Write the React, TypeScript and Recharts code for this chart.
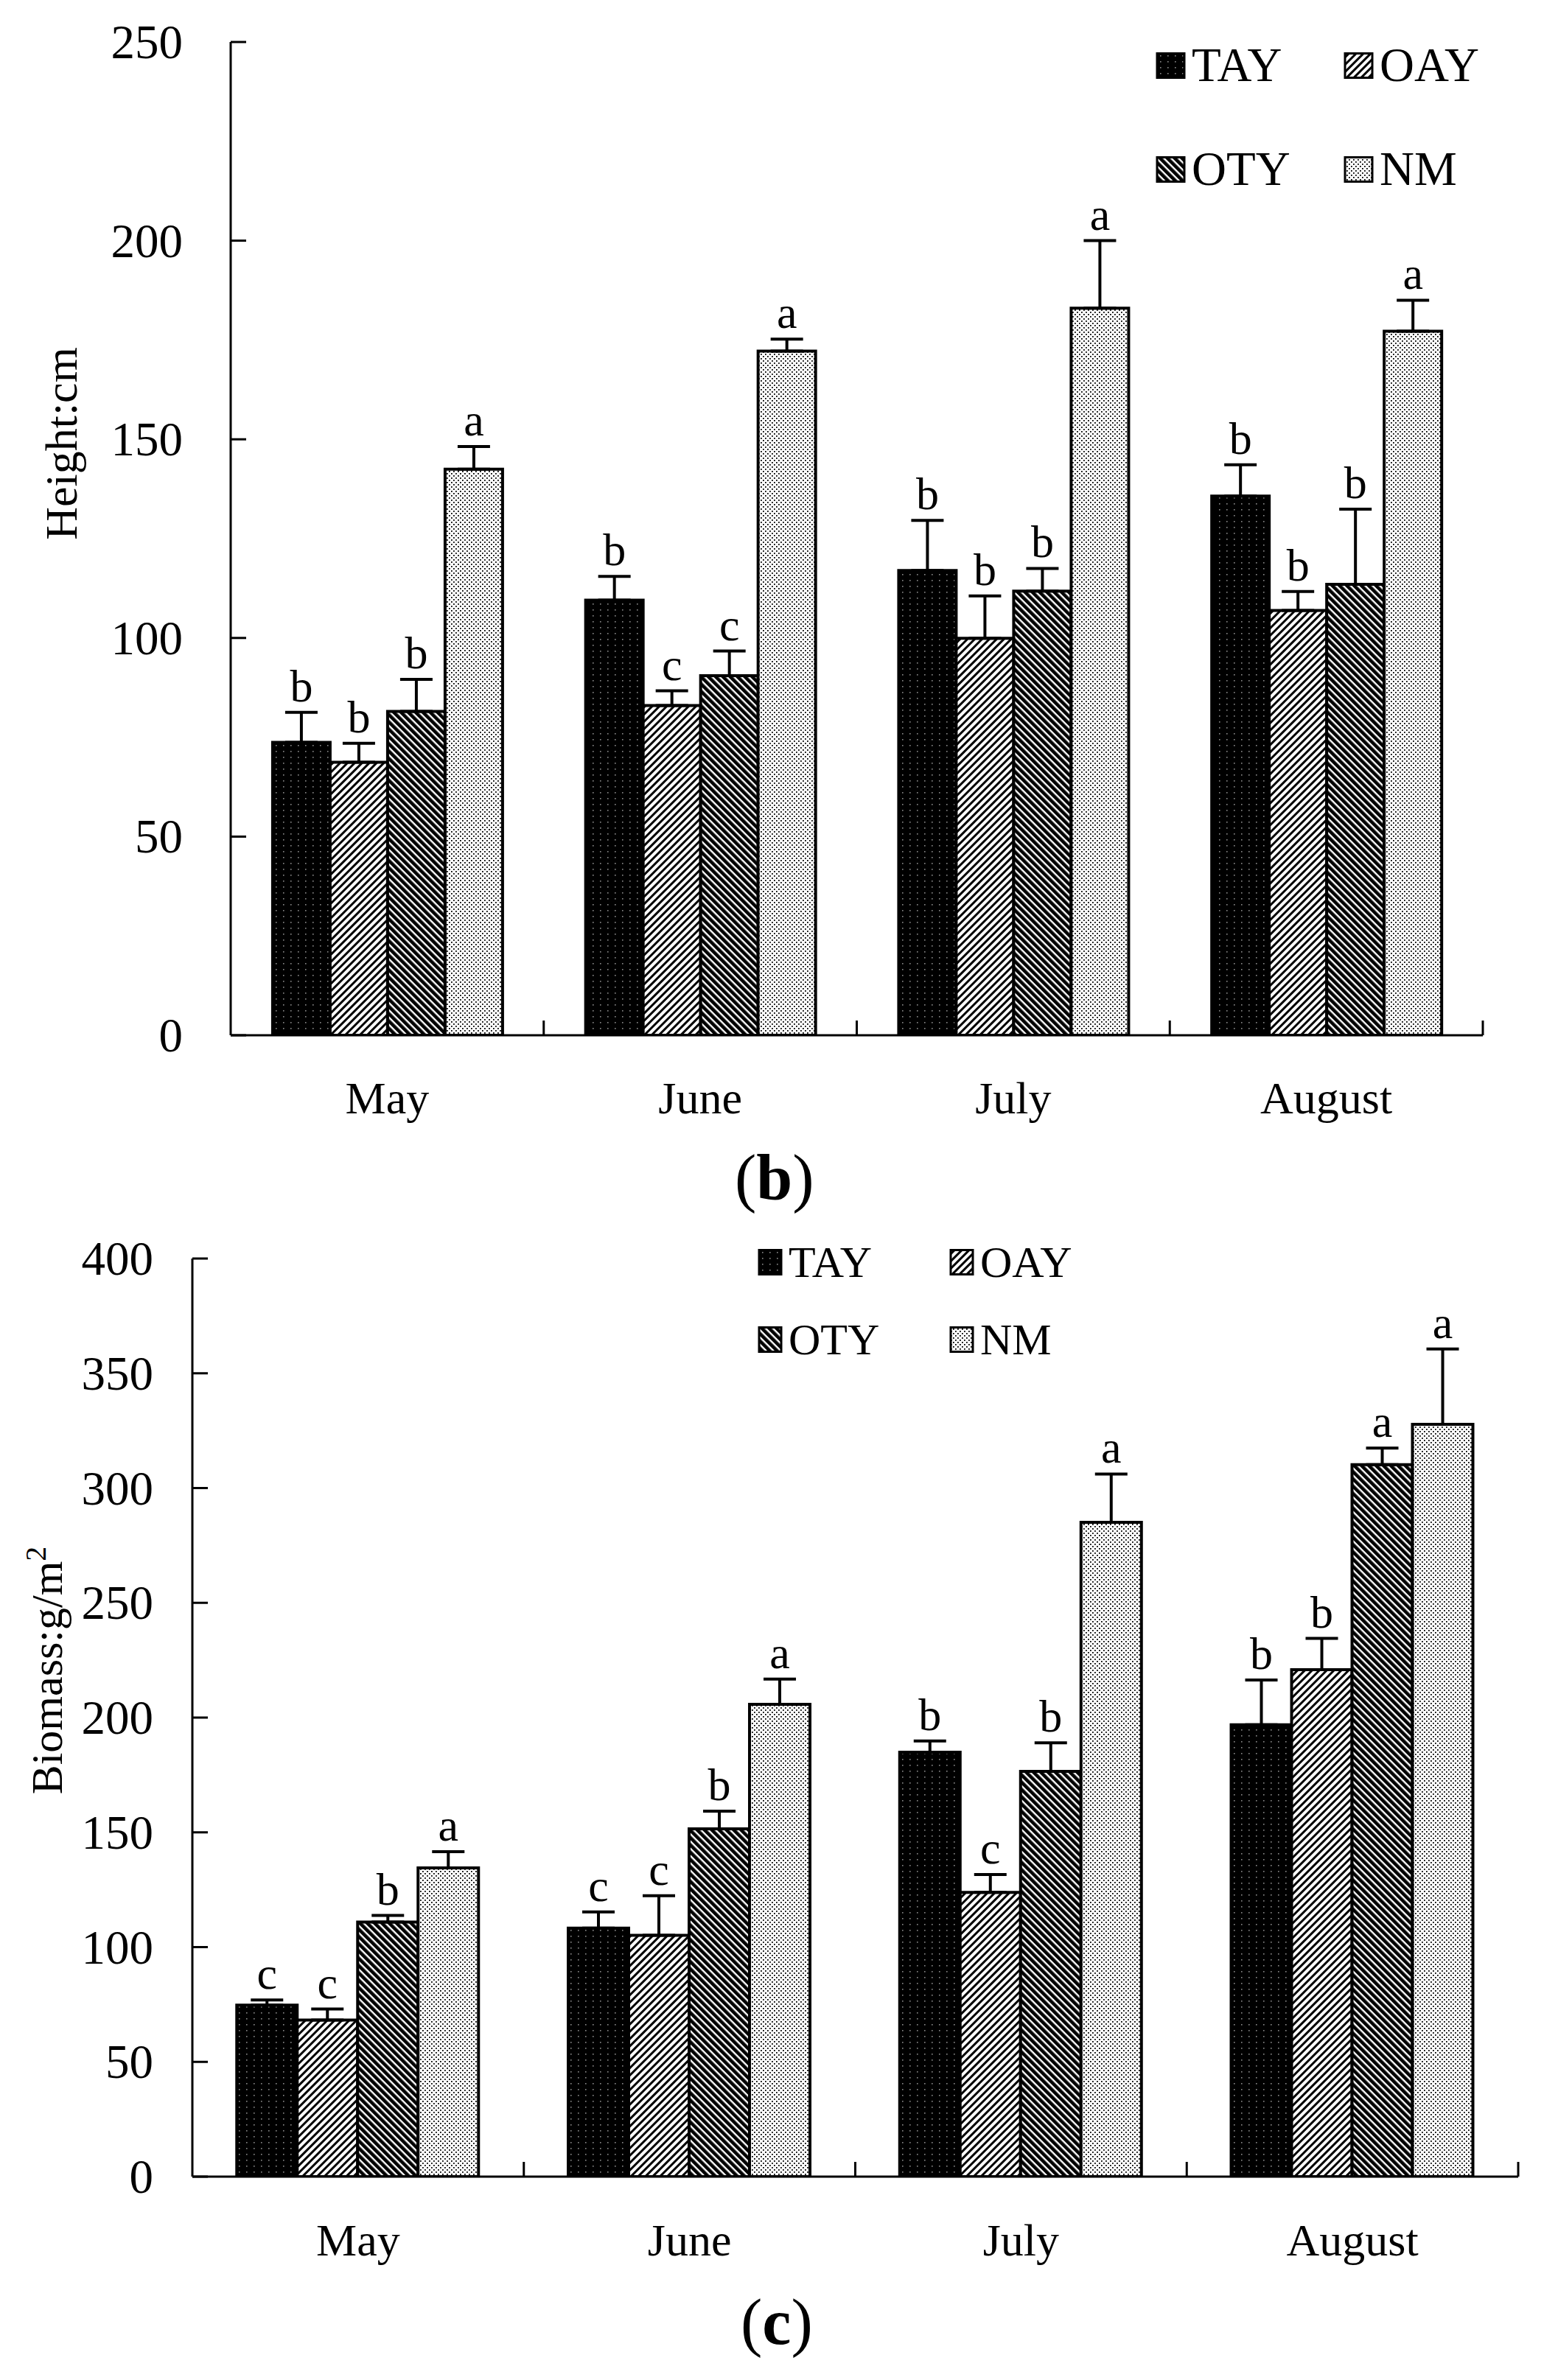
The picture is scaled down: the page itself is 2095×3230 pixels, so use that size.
import React from "react";
import { BarChart, Bar, XAxis, YAxis, ErrorBar, LabelList } from "recharts";

const FONT = '"Liberation Serif", "Times New Roman", Times, serif';

const months = ["May", "June", "July", "August"];
const series = ["TAY", "OAY", "OTY", "NM"];

// (b) plant height, cm
const heightTAY = [73.7, 109.5, 117, 135.7];
const heightOAY = [68.7, 83, 99.9, 106.9];
const heightOTY = [81.5, 90.5, 111.8, 113.5];
const heightNM = [142.5, 172.2, 183, 177.2];
const heightErrTAY = [7.6, 6, 12.6, 7.9];
const heightErrOAY = [4.8, 3.7, 10.7, 4.8];
const heightErrOTY = [8.1, 6.2, 5.7, 18.9];
const heightErrNM = [5.7, 3, 17, 7.8];
const heightSigTAY = ["b", "b", "b", "b"];
const heightSigOAY = ["b", "c", "b", "b"];
const heightSigOTY = ["b", "c", "b", "b"];
const heightSigNM = ["a", "a", "a", "a"];
const heightTicks = [0, 50, 100, 150, 200, 250];

// (c) biomass, g/m2
const biomassTAY = [74.7, 108.3, 184.9, 196.9];
const biomassOAY = [68.2, 105.1, 123.8, 220.9];
const biomassOTY = [110.9, 151.5, 176.6, 310.2];
const biomassNM = [134.5, 205.8, 285.1, 327.8];
const biomassErrTAY = [2.3, 7, 4.9, 19.5];
const biomassErrOAY = [4.8, 17.3, 7.8, 13.6];
const biomassErrOTY = [2.9, 7.7, 12.4, 7.2];
const biomassErrNM = [7.1, 11, 21, 32.8];
const biomassSigTAY = ["c", "c", "b", "b"];
const biomassSigOAY = ["c", "c", "c", "b"];
const biomassSigOTY = ["b", "b", "b", "a"];
const biomassSigNM = ["a", "a", "a", "a"];
const biomassTicks = [0, 50, 100, 150, 200, 250, 300, 350, 400];

const heightValues = [heightTAY, heightOAY, heightOTY, heightNM];
const heightErrs = [heightErrTAY, heightErrOAY, heightErrOTY, heightErrNM];
const heightSigs = [heightSigTAY, heightSigOAY, heightSigOTY, heightSigNM];
const biomassValues = [biomassTAY, biomassOAY, biomassOTY, biomassNM];
const biomassErrs = [biomassErrTAY, biomassErrOAY, biomassErrOTY, biomassErrNM];
const biomassSigs = [biomassSigTAY, biomassSigOAY, biomassSigOTY, biomassSigNM];

function buildRows(values: number[][], errs: number[][]) {
  return months.map((m, i) => {
    const row: any = { month: m };
    series.forEach((s, k) => {
      row[s] = values[k][i];
      row[s + "_err"] = [0, errs[k][i]];
    });
    return row;
  });
}

const heightData = buildRows(heightValues, heightErrs);
const biomassData = buildRows(biomassValues, biomassErrs);

const MonthTick = (props: any) => {
  const { x, y, payload, band, dy } = props;
  return (
    <g>
      <text x={x} y={y + dy} textAnchor="middle" fontSize={62} fontFamily={FONT} fill="#000">
        {payload.value}
      </text>
      <line x1={x + band / 2} x2={x + band / 2} y1={y} y2={y - 20} stroke="#000" strokeWidth={3} />
    </g>
  );
};

const ValueTick = (props: any) => {
  const { x, y, payload, gap } = props;
  return (
    <g>
      <line x1={x} x2={x + 21} y1={y} y2={y} stroke="#000" strokeWidth={3} />
      <text x={x - gap} y={y + 22} textAnchor="end" fontSize={65} fontFamily={FONT} fill="#000">
        {payload.value}
      </text>
    </g>
  );
};

const sigLabel = (letters: string[], errs: number[]) => (props: any) => {
  const { x, y, width, height, value, index } = props;
  const ppu = height / value;
  const top = y - errs[index] * ppu;
  return (
    <text x={x + width / 2} y={top - 15} textAnchor="middle" fontSize={62} fontFamily={FONT} fill="#000">
      {letters[index]}
    </text>
  );
};

function Panel(props: any) {
  const { data, errs, sigs, width, height, margin, yWidth, xHeight, domain, ticks, labelGap, monthDy } = props;
  const band = (width - yWidth - margin.right) / months.length;
  return (
    <BarChart width={width} height={height} data={data} margin={margin} barCategoryGap="13.4%" barGap={0}>
      <XAxis
        dataKey="month"
        height={xHeight}
        axisLine={{ stroke: "#000", strokeWidth: 3 }}
        tickLine={false}
        tickSize={0}
        tickMargin={0}
        interval={0}
        tick={<MonthTick band={band} dy={monthDy} />}
      />
      <YAxis
        width={yWidth}
        domain={domain}
        ticks={ticks}
        interval={0}
        allowDataOverflow
        axisLine={{ stroke: "#000", strokeWidth: 3 }}
        tickLine={false}
        tickSize={0}
        tickMargin={0}
        tick={<ValueTick gap={labelGap} />}
      />
      {series.map((s, k) => (
        <Bar key={s} dataKey={s} fill={`url(#p${s})`} stroke="#000" strokeWidth={4} isAnimationActive={false}>
          <ErrorBar dataKey={s + "_err"} width={22} strokeWidth={4} stroke="#000" direction="y" isAnimationActive={false} />
          <LabelList content={sigLabel(sigs[k], errs[k])} />
        </Bar>
      ))}
    </BarChart>
  );
}

function LegendBlock(props: any) {
  const { left, colStep, rows, sw, sh, fontSize } = props;
  return (
    <g>
      {series.map((s, k) => {
        const cx = left + (k % 2) * colStep;
        const cy = rows[Math.floor(k / 2)];
        return (
          <g key={s}>
            <rect x={cx} y={cy - sh / 2} width={sw} height={sh} fill={`url(#p${s})`} stroke="#000" strokeWidth={3} />
            <text x={cx + sw + 10} y={cy + fontSize * 0.33} fontSize={fontSize} fontFamily={FONT} fill="#000">
              {s}
            </text>
          </g>
        );
      })}
    </g>
  );
}

export default function App() {
  return (
    <div style={{ position: "absolute", left: 0, top: 0, width: 2095, height: 3230, background: "#fff" }}>
      <svg width={0} height={0} style={{ position: "absolute" }}>
        <defs>
          <pattern id="pTAY" patternUnits="userSpaceOnUse" width={10} height={8}>
            <rect width={10} height={8} fill="#000" />
            <rect x={4} y={3} width={1.6} height={1.6} fill="#8a8a8a" />
          </pattern>
          <pattern id="pOAY" patternUnits="userSpaceOnUse" width={7} height={7} patternTransform="rotate(45)">
            <rect width={7} height={7} fill="#fff" />
            <rect width={3} height={7} fill="#000" />
          </pattern>
          <pattern id="pOTY" patternUnits="userSpaceOnUse" width={7} height={7} patternTransform="rotate(-45)">
            <rect width={7} height={7} fill="#fff" />
            <rect width={4.6} height={7} fill="#000" />
          </pattern>
          <pattern id="pNM" patternUnits="userSpaceOnUse" width={6} height={6}>
            <rect width={6} height={6} fill="#fff" />
            <rect x={0} y={0} width={1.8} height={1.8} fill="#000" />
            <rect x={3} y={3} width={1.8} height={1.8} fill="#000" />
          </pattern>
        </defs>
      </svg>

      <div style={{ position: "absolute", left: 0, top: 0 }}>
        <Panel
          data={heightData}
          errs={heightErrs}
          sigs={heightSigs}
          width={2095}
          height={1600}
          margin={{ top: 57, right: 83, left: 0, bottom: 0 }}
          yWidth={313}
          xHeight={195}
          domain={[0, 250]}
          ticks={heightTicks}
          labelGap={65}
          monthDy={106}
        />
      </div>

      <div style={{ position: "absolute", left: 0, top: 1600 }}>
        <Panel
          data={biomassData}
          errs={biomassErrs}
          sigs={biomassSigs}
          width={2095}
          height={1630}
          margin={{ top: 108, right: 35, left: 0, bottom: 0 }}
          yWidth={261}
          xHeight={276}
          domain={[0, 400]}
          ticks={biomassTicks}
          labelGap={53}
          monthDy={107}
        />
      </div>

      <svg
        width={2095}
        height={3230}
        style={{ position: "absolute", left: 0, top: 0, pointerEvents: "none" }}
      >
        <text
          x={104}
          y={602}
          transform="rotate(-90 104 602)"
          textAnchor="middle"
          fontSize={62}
          fontFamily={FONT}
          fill="#000"
        >
          Height:cm
        </text>
        <text
          x={84}
          y={2267}
          transform="rotate(-90 84 2267)"
          textAnchor="middle"
          fontSize={60}
          fontFamily={FONT}
          fill="#000"
        >
          Biomass:g/m
          <tspan dy={-22} fontSize={40}>2</tspan>
        </text>

        <LegendBlock left={1570} colStep={255} rows={[89, 230]} sw={37} sh={33} fontSize={65} />
        <LegendBlock left={1030} colStep={260} rows={[1713, 1818]} sw={30} sh={33} fontSize={60} />

        <text x={997} y={1628} fontSize={88} fontFamily={FONT} fill="#000">
          (<tspan fontWeight="bold">b</tspan>)
        </text>
        <text x={1005} y={3181} fontSize={88} fontFamily={FONT} fill="#000">
          (<tspan fontWeight="bold">c</tspan>)
        </text>
      </svg>
    </div>
  );
}
